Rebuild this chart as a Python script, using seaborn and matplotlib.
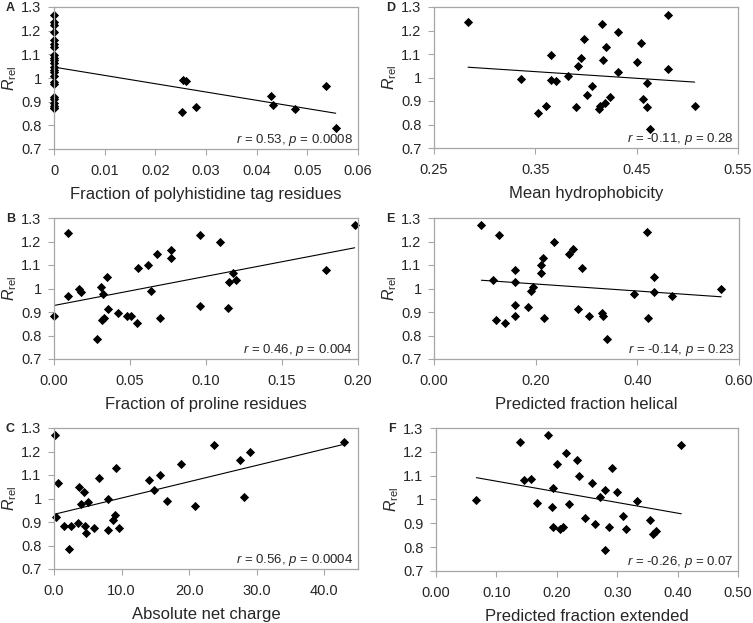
import numpy as np
import pandas as pd
import matplotlib
matplotlib.use("Agg")
import matplotlib.pyplot as plt
import seaborn as sns

# R_rel values
a_x = [0.0] * 23 + [0.0253, 0.0255, 0.0261, 0.028, 0.0429, 0.0432, 0.0476, 0.0536, 0.0556]
a_y = [1.238, 1.097, 0.983, 1.007, 0.873, 1.047, 1.084, 1.162, 0.918, 0.893, 1.226, 1.075,
       1.130, 1.195, 1.025, 1.065, 1.145, 0.910, 0.975, 0.873, 1.267, 1.035, 0.880,
       0.858, 0.992, 0.988, 0.879, 0.924, 0.885, 0.869, 0.968, 0.787]

b_x = [0.0, 0.0094, 0.0094, 0.0164, 0.0178, 0.028, 0.031, 0.032, 0.0316, 0.033, 0.0346,
       0.0357, 0.042, 0.0478, 0.0507, 0.0548, 0.055, 0.062, 0.064, 0.0675, 0.070, 0.077,
       0.077, 0.096, 0.096, 0.109, 0.1147, 0.1153, 0.118, 0.1195, 0.179, 0.1978]
b_y = [0.883, 1.238, 0.966, 0.998, 0.985, 0.783, 1.008, 0.975, 0.866, 0.873, 1.047,
       0.912, 0.895, 0.883, 0.883, 0.853, 1.086, 1.098, 0.990, 1.146, 0.873, 1.128,
       1.164, 1.227, 0.926, 1.197, 0.919, 1.027, 1.068, 1.038, 1.078, 1.270]

c_x = [0.15, 0.54, 0.3, 1.53, 2.46, 2.2, 3.55, 3.74, 4.0, 4.38, 4.63, 4.78, 5.0, 5.9,
       6.6, 8.0, 8.0, 8.8, 9.06, 9.2, 9.6, 14.0, 14.8, 15.7, 16.7, 18.8, 20.9, 23.7,
       27.6, 28.1, 29.0, 43.0]
c_y = [1.270, 1.068, 0.923, 0.883, 0.883, 0.784, 0.895, 1.050, 0.977, 1.028, 0.883,
       0.853, 0.986, 0.875, 1.088, 0.865, 0.997, 0.909, 0.929, 1.129, 0.875, 1.078,
       1.038, 1.099, 0.989, 1.148, 0.966, 1.229, 1.165, 1.008, 1.196, 1.240]

d_x = [0.2836, 0.336, 0.3526, 0.361, 0.3658, 0.3658, 0.3707, 0.3822, 0.390, 0.392,
       0.395, 0.3984, 0.4006, 0.406, 0.413, 0.4135, 0.4155, 0.4164, 0.4184, 0.4197,
       0.4237, 0.4316, 0.432, 0.4507, 0.4546, 0.456, 0.4605, 0.4602, 0.4635, 0.4809,
       0.4809, 0.5072]
d_y = [1.238, 0.995, 0.851, 0.880, 1.097, 0.988, 0.983, 1.007, 0.873, 1.047, 1.084,
       1.162, 0.927, 0.964, 0.865, 0.880, 1.226, 1.075, 0.893, 1.130, 0.918, 1.195,
       1.025, 1.065, 1.145, 0.910, 0.975, 0.873, 0.780, 1.267, 1.035, 0.880]

e_x = [0.0932, 0.116, 0.127, 0.121, 0.140, 0.159, 0.159, 0.159, 0.159, 0.184, 0.190,
       0.194, 0.211, 0.211, 0.214, 0.216, 0.236, 0.265, 0.273, 0.284, 0.292, 0.305,
       0.330, 0.333, 0.341, 0.394, 0.419, 0.420, 0.432, 0.432, 0.468, 0.565]
e_y = [1.272, 1.037, 1.229, 0.866, 0.853, 1.080, 1.028, 0.930, 0.883, 0.921, 0.990,
       1.008, 1.098, 1.068, 1.129, 0.873, 1.199, 1.148, 1.166, 0.912, 1.087, 0.883,
       0.895, 0.882, 0.783, 0.977, 1.242, 0.873, 1.048, 0.986, 0.966, 0.998]

f_x = [0.067, 0.139, 0.146, 0.157, 0.167, 0.186, 0.192, 0.194, 0.193, 0.201, 0.205,
       0.210, 0.215, 0.220, 0.234, 0.236, 0.246, 0.259, 0.264, 0.272, 0.280, 0.280,
       0.287, 0.292, 0.299, 0.309, 0.315, 0.333, 0.354, 0.360, 0.365, 0.406]
f_y = [0.997, 1.241, 1.080, 1.088, 0.986, 1.271, 0.970, 1.050, 0.885, 1.149, 0.876,
       0.885, 1.197, 0.981, 1.165, 1.100, 0.924, 1.070, 0.898, 1.011, 1.041, 0.788,
       0.886, 1.131, 1.030, 0.931, 0.878, 0.992, 0.915, 0.857, 0.867, 1.227]

y_ticks = [0.7, 0.8, 0.9, 1.0, 1.1, 1.2, 1.3]
y_labels = ["0.7", "0.8", "0.9", "1", "1.1", "1.2", "1.3"]

panels = [
    ("A", a_x, a_y, "Fraction of polyhistidine tag residues", (0, 0.06),
     [0, 0.01, 0.02, 0.03, 0.04, 0.05, 0.06], ["0", "0.01", "0.02", "0.03", "0.04", "0.05", "0.06"],
     "0.53", "0.0008"),
    ("B", b_x, b_y, "Fraction of proline residues", (0, 0.2),
     [0, 0.05, 0.1, 0.15, 0.2], ["0.00", "0.05", "0.10", "0.15", "0.20"], "0.46", "0.004"),
    ("C", c_x, c_y, "Absolute net charge", (0, 45),
     [0, 10, 20, 30, 40], ["0.0", "10.0", "20.0", "30.0", "40.0"], "0.56", "0.0004"),
    ("D", d_x, d_y, "Mean hydrophobicity", (0.25, 0.55),
     [0.25, 0.35, 0.45, 0.55], ["0.25", "0.35", "0.45", "0.55"], "-0.11", "0.28"),
    ("E", e_x, e_y, "Predicted fraction helical", (0, 0.6),
     [0, 0.2, 0.4, 0.6], ["0.00", "0.20", "0.40", "0.60"], "-0.14", "0.23"),
    ("F", f_x, f_y, "Predicted fraction extended", (0, 0.5),
     [0, 0.1, 0.2, 0.3, 0.4, 0.5], ["0.00", "0.10", "0.20", "0.30", "0.40", "0.50"], "-0.26", "0.07"),
]

sns.set_style("white")
plt.rcParams["font.family"] = ["Liberation Sans", "DejaVu Sans"]
plt.rcParams["mathtext.fontset"] = "custom"
plt.rcParams["mathtext.rm"] = "Liberation Sans"
plt.rcParams["mathtext.it"] = "Liberation Sans:italic"

W, H = 753, 623
fig = plt.figure(figsize=(W / 100, H / 100), dpi=100)

# axes boxes in pixels: left, right, top, bottom
boxes = {
    "A": (54, 358, 7, 149), "B": (54, 358, 218, 359), "C": (54, 358, 428, 569),
    "D": (434, 738, 7, 148), "E": (434, 739, 218, 359), "F": (436, 738, 428, 571),
}
grey = "#a6a6a6"

for letter, x, y, xlab, xlim, xt, xtl, r, p in panels:
    l, rr, t, b = boxes[letter]
    ax = fig.add_axes([l / W, 1 - b / H, (rr - l) / W, (b - t) / H])
    df = pd.DataFrame({"x": x, "y": y})
    sns.regplot(data=df, x="x", y="y", ax=ax, ci=None, truncate=True,
                marker="D", color="black",
                scatter_kws={"s": 22, "linewidths": 0, "clip_on": False, "alpha": 1},
                line_kws={"linewidth": 0.8, "color": "black"})
    ax.set_xlim(*xlim)
    ax.set_ylim(0.7, 1.3)
    ax.set_xticks(xt)
    ax.set_xticklabels(xtl)
    ax.set_yticks(y_ticks)
    ax.set_yticklabels(y_labels)
    ax.tick_params(axis="both", labelsize=10.5, length=4, width=0.8, color=grey,
                   direction="out", bottom=True, left=True)
    ax.tick_params(axis="x", pad=7)
    ax.tick_params(axis="y", pad=5)
    for s in ax.spines.values():
        s.set_color(grey)
        s.set_linewidth(0.9)
    ax.set_xlabel(xlab, fontsize=12, labelpad=6)
    ax.set_ylabel(r"$R_{\mathrm{rel}}$", fontsize=11.5)
    ax.yaxis.set_label_coords(-35 / (rr - l), 0.5)
    ax.text(0.985, 0.005, "$r$ = " + r + ", $p$ = " + p, transform=ax.transAxes,
            ha="right", va="bottom", fontsize=9.5)
    fig.text((l - 48) / W, 1 - (t + 1) / H, letter, fontsize=9, fontweight="bold",
             ha="left", va="center")

fig.savefig("out.png", dpi=100)
